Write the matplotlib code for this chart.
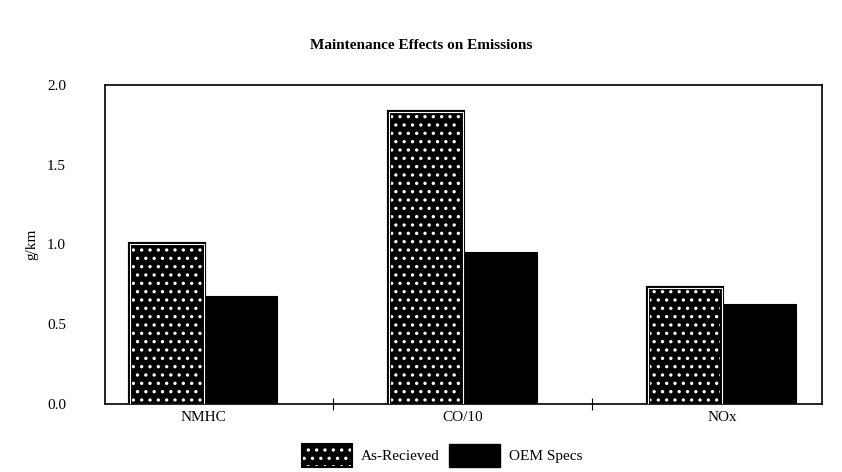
import matplotlib.pyplot as plt
import numpy as np
from matplotlib.patches import Rectangle

categories = ["NMHC", "CO/10", "NOx"]
as_recieved = [1.00, 1.83, 0.73]
oem_specs = [0.68, 0.95, 0.63]
yticks = [0.0, 0.5, 1.0, 1.5, 2.0]

plt.rcParams["font.family"] = ["Liberation Serif", "DejaVu Serif"]
plt.rcParams["hatch.linewidth"] = 1.2

fig = plt.figure(figsize=(8.42, 4.72), dpi=100)
ax = fig.add_axes([0.1247, 0.144, 0.8515, 0.676])

x = np.arange(len(categories))
w = 0.285

# speckled bars: black with white dots, black outline with a thin white line inside
ax.bar(x - w / 2, as_recieved, w, color="black", edgecolor="white",
       hatch="..", linewidth=0.0, zorder=2)
ax.bar(x - w / 2, as_recieved, w, fill=False, edgecolor="black",
       linewidth=3.0, zorder=3)
ax.bar(x - w / 2, as_recieved, w, fill=False, edgecolor="white",
       linewidth=0.8, zorder=4)
ax.bar(x + w / 2, oem_specs, w, color="black", edgecolor="black",
       linewidth=0.8, zorder=2)

ax.set_xlim(-0.38, 2.385)
ax.set_ylim(0, 2.0)
ax.set_yticks(yticks)
ax.set_yticklabels([f"{v:.1f}" for v in yticks], fontsize=11)
ax.tick_params(axis="y", length=0, pad=28)

ax.set_xticks([0.5, 1.5])
ax.set_xticklabels([])
ax.tick_params(axis="x", direction="inout", length=8)
for xi, name in zip(x, categories):
    ax.text(xi, -0.045, name, ha="center", va="top", fontsize=11)

for s in ax.spines.values():
    s.set_linewidth(1.2)

ax.set_ylabel("g/km", fontsize=11, labelpad=6)
fig.text(0.5, 0.903, "Maintenance Effects on Emissions", ha="center",
         va="center", fontsize=11, fontweight="bold")

h1a = Rectangle((0, 0), 1, 1, facecolor="black", edgecolor="white",
                hatch="..", linewidth=0)
h1b = Rectangle((0, 0), 1, 1, fill=False, edgecolor="black", linewidth=1.5)
h2 = Rectangle((0, 0), 1, 1, facecolor="black", edgecolor="black")
fig.legend([(h1a, h1b), h2], ["As-Recieved", "OEM Specs"], ncol=2,
           loc="center", bbox_to_anchor=(0.525, 0.035), frameon=False,
           handlelength=3.3, handleheight=2.0, columnspacing=0.6,
           handletextpad=0.6, fontsize=11)

fig.savefig("out.png", dpi=100)
